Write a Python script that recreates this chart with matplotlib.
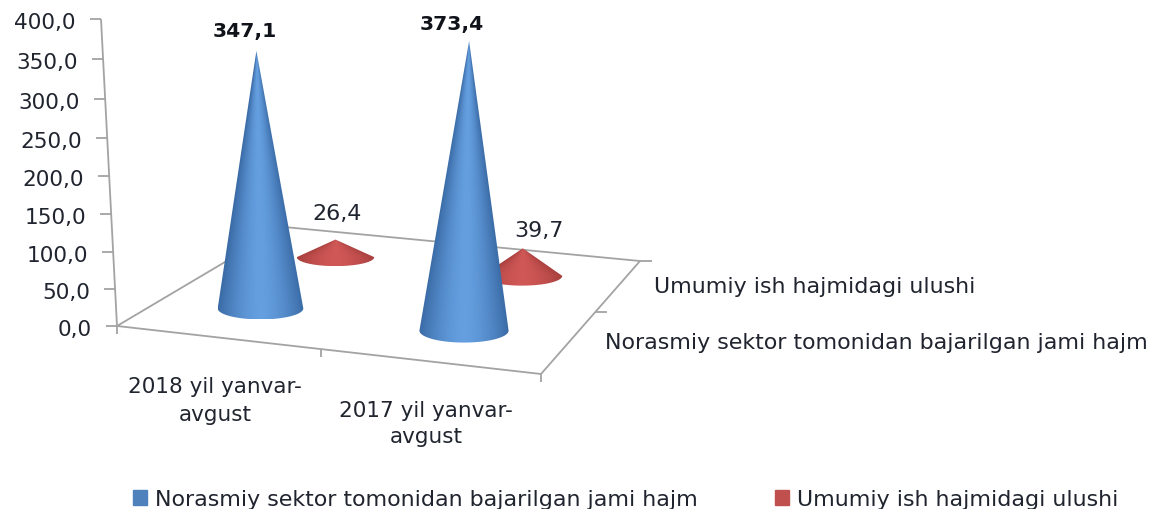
#!/usr/bin/env python3
"""3D-look cone chart, drawn in pixel space with a small floor projection."""
import numpy as np
import matplotlib
matplotlib.use("Agg")
import matplotlib.pyplot as plt
from matplotlib.colors import LinearSegmentedColormap
from matplotlib.patches import Patch, PathPatch
from matplotlib.path import Path

categories = ["2018 yil yanvar-\navgust", "2017 yil yanvar-\navgust"]
series_names = ["Norasmiy sektor tomonidan bajarilgan jami hajm", "Umumiy ish hajmidagi ulushi"]
informal_total = [347.1, 373.4]
work_share = [26.4, 39.7]
y_ticks = [0, 50, 100, 150, 200, 250, 300, 350, 400]

W, H = 1151, 510
TEXT = "#20242e"
GRID = "#a3a3a3"
# floor corners in pixels: front-left, front-right, back-right, back-left
FL, FR, BR, BL = map(np.array, [(117, 327), (541, 375), (640, 262), (284, 228)])


def floor(u, v):
    front = FL + (FR - FL) * u
    back = BL + (BR - BL) * u
    return front + (back - front) * v


def wall_y(val):
    return FL[1] - val * (0.731 + 0.0000906 * val)


def fmt(val):
    return ("%.1f" % val).replace(".", ",")


def cone(ax, u, v, val, colors):
    cx, cy = floor(u, v) + np.array([0, -4])
    rx = 38.7 + 0.08 * (cy - 258)
    ry = 9 + 0.04 * (cy - 258)
    scale = 0.665 + 0.0015 * (cy - 258)
    tx, ty = cx + 0.05 * (cx - 355) * val / 400, cy - val * scale
    t = np.linspace(0, np.pi, 60)
    pts = np.column_stack([cx + rx * np.cos(t), cy + ry * np.sin(t)])
    pts = np.vstack([pts, [(tx, ty)], pts[:1]])
    clip = PathPatch(Path(pts), fc="none", ec="none", transform=ax.transData)
    ax.add_patch(clip)
    cmap = LinearSegmentedColormap.from_list("c", colors)
    # shade follows the cone: each row runs light centre to dark rim
    x0, x1 = min(cx - rx, tx), max(cx + rx, tx)
    xs = np.linspace(x0, x1, 300)
    ys = np.linspace(ty, cy + ry, 300)
    xx, yy = np.meshgrid(xs, ys)
    f = np.clip((yy - ty) / (cy - ty), 0.02, 1)
    mid = tx + (cx - tx) * f
    grad = np.clip(np.abs(xx - mid) / (rx * f), 0, 1) ** 1.6
    im = ax.imshow(grad, cmap=cmap, vmin=0, vmax=1, aspect="auto", interpolation="bilinear",
                   extent=(x0, x1, cy + ry, ty), zorder=3)
    im.set_clip_path(clip)
    return tx, ty


def main():
    plt.rcParams["font.family"] = "DejaVu Sans"
    fig = plt.figure(figsize=(W / 100, H / 100), dpi=100)
    ax = fig.add_axes([0, 0, 1, 1])

    # floor and wall
    line = dict(color=GRID, lw=1.3, zorder=1, solid_capstyle="butt")
    ring = np.array([FL, FR, BR, BL, FL])
    ax.plot(ring[:, 0], ring[:, 1], **line)
    ax.plot([FL[0], FL[0] - 16], [wall_y(0), wall_y(400)], **line)
    for val in y_ticks:
        x = FL[0] - 16 * val / 400
        y = wall_y(val)
        ax.plot([x - 11, x], [y, y], **line)
        ax.text(x - 25, y + 3, fmt(val), ha="right", va="center", fontsize=15.6, color=TEXT)
    for u in (0, 0.48, 1):
        x, y = floor(u, 0)
        ax.plot([x, x], [y, y + 8], **line)
    for v in (0.55, 1):
        x, y = floor(1, v)
        ax.plot([x, x + 12], [y, y], **line)

    # cones, back row first so the front row covers it
    blue = ["#659fe0", "#3a6ba6"]
    red = ["#d05856", "#a63f3d"]
    tops_red = [cone(ax, u, 0.75, val, red) for u, val in zip((0.25, 0.75), work_share)]
    tops_blue = [cone(ax, u, 0.25, val, blue) for u, val in zip((0.25, 0.75), informal_total)]

    # data labels
    for (x, y), val, dx, dy in zip(tops_blue, informal_total, (-12, -17), (-20, -18)):
        ax.text(x + dx, y + dy, fmt(val), ha="center", va="center", fontsize=14.6,
                fontweight="bold", color="#10131a", zorder=5)
    for (x, y), val, dx, dy in zip(tops_red, work_share, (2, 16), (-27, -18)):
        ax.text(x + dx, y + dy, fmt(val), ha="center", va="center", fontsize=16, color=TEXT, zorder=5)

    # axis labels
    ax.text(215, 401, categories[0], ha="center", va="center", fontsize=15.5, color=TEXT, linespacing=1.45)
    ax.text(426, 424, categories[1], ha="center", va="center", fontsize=15.5, color=TEXT, linespacing=1.35)
    ax.text(654, 287, series_names[1], ha="left", va="center", fontsize=15.9, color=TEXT)
    ax.text(605, 343, series_names[0], ha="left", va="center", fontsize=15.9, color=TEXT)

    handles = [Patch(color="#4f81bd", label=series_names[0]), Patch(color="#c0504d", label=series_names[1])]
    ax.legend(handles=handles, ncol=2, frameon=False, fontsize=15.9, labelcolor=TEXT,
              loc="center left", bbox_to_anchor=(133 / W, 1 - 500 / H), bbox_transform=fig.transFigure,
              handlelength=0.64, handleheight=0.64, handletextpad=0.36, columnspacing=3.5,
              borderpad=0, borderaxespad=0)

    ax.set_xlim(0, W)
    ax.set_ylim(H, 0)
    ax.axis("off")
    fig.savefig("out.png", dpi=100)


if __name__ == "__main__":
    main()
